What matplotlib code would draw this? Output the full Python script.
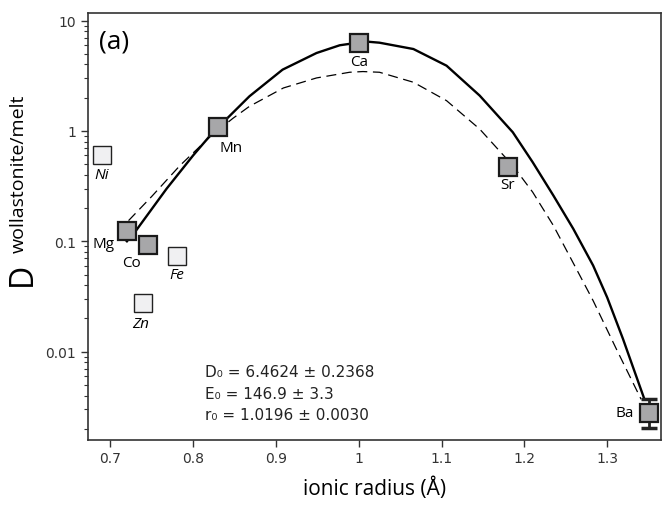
import matplotlib.pyplot as plt

# measured partition coefficients (fitted cations)
fit_ions = ['Mg', 'Co', 'Mn', 'Ca', 'Sr', 'Ba']
fit_r = [0.72, 0.745, 0.83, 1.00, 1.18, 1.35]
fit_D = [0.124, 0.0917, 1.08, 6.26, 0.475, 0.0028]

# excluded cations
other_ions = ['Ni', 'Fe', 'Zn']
other_r = [0.69, 0.78, 0.74]
other_D = [0.61, 0.0734, 0.0276]

# Ba error bar
ba_lo = 0.00204
ba_hi = 0.00376

# lattice strain fit curves
solid_r = [0.720, 0.731, 0.768, 0.800, 0.830, 0.842, 0.868, 0.908, 0.949, 0.977,
           1.000, 1.012, 1.025, 1.066, 1.106, 1.146, 1.186, 1.210, 1.235, 1.259,
           1.283, 1.300, 1.319, 1.345]
solid_D = [0.100, 0.125, 0.300, 0.60, 1.10, 1.32, 2.06, 3.59, 5.08, 5.97,
           6.32, 6.42, 6.30, 5.52, 3.90, 2.09, 0.973, 0.521, 0.260, 0.130,
           0.0604, 0.0310, 0.0131, 0.0037]

dash_r = [0.722, 0.750, 0.784, 0.820, 0.848, 0.868, 0.909, 0.949, 0.989, 1.005,
          1.025, 1.066, 1.106, 1.146, 1.186, 1.210, 1.235, 1.267, 1.283, 1.311,
          1.341]
dash_D = [0.154, 0.255, 0.485, 0.88, 1.30, 1.67, 2.45, 3.02, 3.40, 3.45,
          3.40, 2.76, 1.88, 1.04, 0.485, 0.279, 0.139, 0.049, 0.029, 0.0106,
          0.0037]

fit_label_off = [(-23, -13), (-16, -17), (13, -20), (0, -19), (0, -18), (-24, 0)]
other_label_off = [(0, -20), (0, -18), (-3, -20)]

fig = plt.figure(figsize=(6.64, 5.06), dpi=100)
ax = fig.add_axes([0.1325, 0.1294, 0.863, 0.8429])

ax.plot(dash_r, dash_D, color='black', lw=0.9, dashes=(8, 4.5), zorder=2)
ax.plot(solid_r, solid_D, color='black', lw=1.7, zorder=2)

ax.errorbar([fit_r[-1]], [fit_D[-1]],
            yerr=[[fit_D[-1] - ba_lo], [ba_hi - fit_D[-1]]],
            fmt='none', ecolor='#222222', elinewidth=2, capsize=6, capthick=2.5, zorder=3)

ax.plot(fit_r, fit_D, ls='none', marker='s', ms=13.5, mfc='#a7a7a9',
        mec='#1a1a1a', mew=1.6, zorder=4)
ax.plot(other_r, other_D, ls='none', marker='s', ms=13.5, mfc='#f0f0f2',
        mec='#222222', mew=1.0, zorder=4)

for name, x, y, off in zip(fit_ions, fit_r, fit_D, fit_label_off):
    ax.annotate(name, (x, y), xytext=off, textcoords='offset pixels',
                ha='center', va='center', fontsize=11, family='Open Sans', zorder=5)
for name, x, y, off in zip(other_ions, other_r, other_D, other_label_off):
    ax.annotate(name, (x, y), xytext=off, textcoords='offset pixels',
                ha='center', va='center', fontsize=11, family='Open Sans',
                style='italic', zorder=5)

ax.text(0.02, 0.935, '(a)', transform=ax.transAxes, fontsize=19,
        family='Open Sans', va='center', ha='left')

eq = ['D\u2080 = 6.4624 \u00b1 0.2368',
      'E\u2080 = 146.9 \u00b1 3.3',
      'r\u2080 = 1.0196 \u00b1 0.0030']
for i, line in enumerate(eq):
    ax.text(0.204, 0.159 - i * 0.0505, line, transform=ax.transAxes,
            fontsize=11, va='center', ha='left', color='#222222')

ax.set_yscale('log')
ax.set_xlim(0.673, 1.365)
ax.set_ylim(0.0016, 11.7)
ax.set_xticks([0.7, 0.8, 0.9, 1.0, 1.1, 1.2, 1.3])
ax.set_xticklabels(['0.7', '0.8', '0.9', '1', '1.1', '1.2', '1.3'])
ax.set_yticks([0.01, 0.1, 1, 10])
ax.set_yticklabels(['0.01', '0.1', '1', '10'])
ax.tick_params(axis='both', which='major', direction='out', length=5,
               width=1, labelsize=10, colors='#333333')
ax.tick_params(axis='y', which='minor', direction='out', length=3, width=0.8,
               colors='#333333')
ax.tick_params(axis='x', which='minor', length=0)
for s in ax.spines.values():
    s.set_linewidth(1.2)
    s.set_color('#333333')

ax.set_xlabel('ionic radius (\u00c5)', fontsize=15, family='Open Sans', labelpad=8)
fig.text(22 / 664, 1 - 274 / 506, 'D', rotation=90, fontsize=23,
         family='Open Sans', ha='center', va='center')
fig.text(19 / 664, 1 - 174 / 506, 'wollastonite/melt', rotation=90, fontsize=14,
         family='Open Sans', ha='center', va='center')

fig.savefig('out.png', dpi=100)
